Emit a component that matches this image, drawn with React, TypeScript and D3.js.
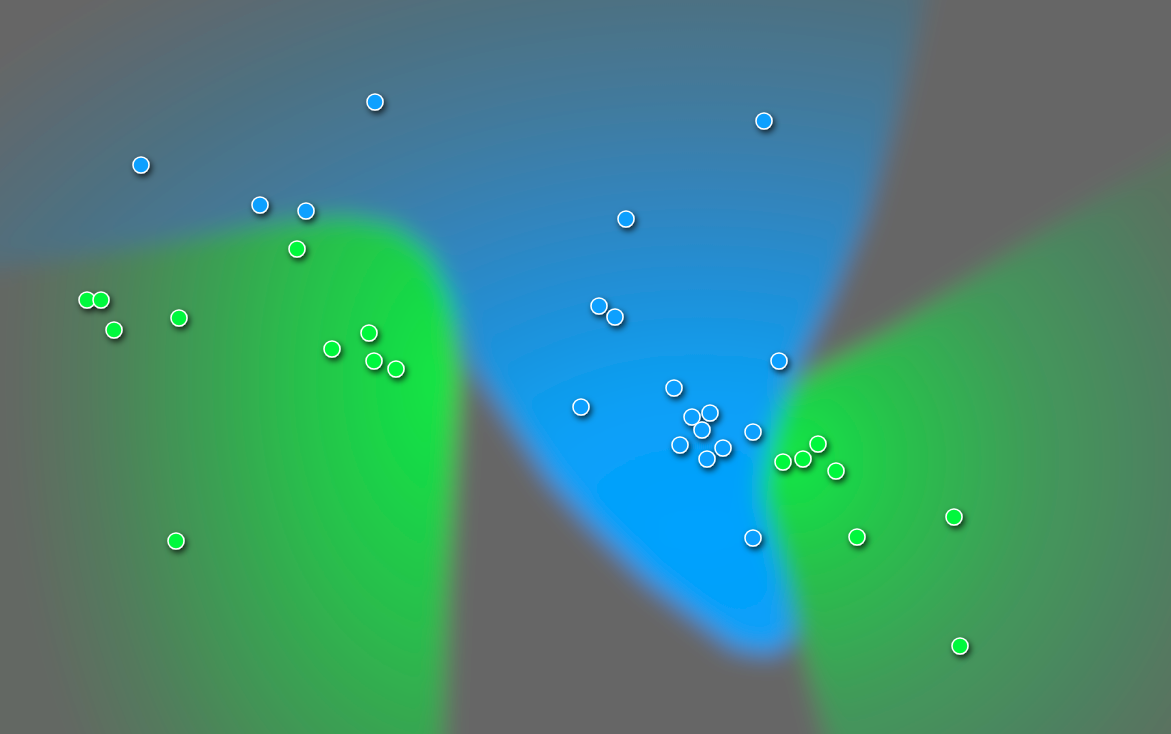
import * as d3 from 'd3';
import React, { useEffect } from 'react';

const W = 1171;
const H = 734;

// class A (blue) samples, data units
const blueX = [3.75, 7.64, 1.41, 2.60, 3.06, 6.26, 5.99, 6.15, 7.79, 6.74, 5.81, 6.92, 7.10, 7.02, 6.80, 7.23, 7.07, 7.53, 7.53];
const blueY = [6.32, 6.13, 5.69, 5.29, 5.23, 5.15, 4.28, 4.17, 3.73, 3.46, 3.27, 3.17, 3.21, 3.04, 2.89, 2.86, 2.75, 3.02, 1.96];

// class B (green) samples
const greenX = [2.97, 0.87, 1.01, 1.14, 1.79, 3.69, 3.32, 3.74, 3.96, 1.76, 7.83, 8.03, 8.18, 8.36, 8.57, 9.54, 9.60];
const greenY = [4.85, 4.34, 4.34, 4.04, 4.16, 4.01, 3.85, 3.73, 3.65, 1.93, 2.72, 2.75, 2.90, 2.63, 1.97, 2.17, 0.88];

// decision regions (outline of where each class wins)
const greenLeftRegion: [number, number][] = [
  [-0.8, 4.54], [0, 4.68], [1.5, 4.9], [2.8, 5.12], [3.45, 5.18], [3.95, 5.08], [4.3, 4.8],
  [4.52, 4.3], [4.58, 3.6], [4.54, 2.84], [4.46, 1.34], [4.4, -0.86], [-0.8, -0.86],
];
const blueRegion: [number, number][] = [
  [-0.8, 8.14], [9.4, 8.14], [9.25, 7.34], [8.95, 6.14], [8.65, 5.14], [8.3, 4.34], [8.0, 3.74],
  [7.82, 3.34], [7.68, 2.89], [7.6, 2.44], [7.7, 2.04], [7.85, 1.54], [7.95, 1.0], [7.75, 0.8],
  [7.35, 0.86], [6.47, 1.54], [5.9, 2.1], [5.5, 2.54], [5.05, 3.2], [4.7, 3.7], [4.52, 4.3],
  [4.3, 4.8], [3.95, 5.08], [3.45, 5.18], [2.8, 5.12], [1.5, 4.9], [0, 4.68], [-0.8, 4.54],
];
const greenRightRegion: [number, number][] = [
  [7.68, 2.89], [7.82, 3.34], [8.0, 3.54], [8.87, 4.01], [10.2, 4.87], [11.71, 5.81], [12.6, 6.36],
  [12.6, -0.86], [8.45, -0.86], [8.2, 0.2], [8.02, 0.9], [7.85, 1.54], [7.7, 2.04], [7.6, 2.44],
];

export default function App() {
  useEffect(() => {
    document.body.style.margin = '0';
  }, []);

  const x = d3.scaleLinear().domain([0, 11.71]).range([0, W]);
  const y = d3.scaleLinear().domain([0, 7.34]).range([H, 0]);
  const outline = d3
    .line<[number, number]>()
    .x((d) => x(d[0]))
    .y((d) => y(d[1]))
    .curve(d3.curveLinearClosed);

  // confidence falls off from each region's core
  const ellipse = (cx: number, cy: number, rx: number, ry: number) =>
    `translate(${x(cx)},${y(cy)}) scale(${rx},${ry})`;

  const blue = blueX.map((v, i) => [v, blueY[i]]);
  const green = greenX.map((v, i) => [v, greenY[i]]);

  return (
    <svg width={W} height={H} style={{ display: 'block' }}>
      <defs>
        <radialGradient id="gBlue" gradientUnits="userSpaceOnUse" cx={0} cy={0} r={1} gradientTransform={ellipse(7.0, 2.04, 975, 676)}>
          <stop offset="0" stopColor="#03a2ff" />
          <stop offset="0.18" stopColor="#08a0f8" />
          <stop offset="0.25" stopColor="#109cec" />
          <stop offset="0.36" stopColor="#2090d8" />
          <stop offset="0.5" stopColor="#3384bb" />
          <stop offset="0.64" stopColor="#427a9c" />
          <stop offset="0.8" stopColor="#4e7080" />
          <stop offset="1" stopColor="#666666" />
        </radialGradient>
        <radialGradient id="gLeft" gradientUnits="userSpaceOnUse" cx={0} cy={0} r={1} gradientTransform={ellipse(4.5, 3.54, 440, 700)}>
          <stop offset="0" stopColor="#10e844" />
          <stop offset="0.15" stopColor="#18d846" />
          <stop offset="0.35" stopColor="#28bf4c" />
          <stop offset="0.55" stopColor="#3aa052" />
          <stop offset="0.8" stopColor="#527c5c" />
          <stop offset="1" stopColor="#636863" />
        </radialGradient>
        <radialGradient id="gRight" gradientUnits="userSpaceOnUse" cx={0} cy={0} r={1} gradientTransform={ellipse(7.9, 2.74, 460, 460)}>
          <stop offset="0" stopColor="#10e844" />
          <stop offset="0.25" stopColor="#28c04c" />
          <stop offset="0.55" stopColor="#42985a" />
          <stop offset="0.83" stopColor="#4e8060" />
          <stop offset="1" stopColor="#5a7260" />
        </radialGradient>
        <filter id="soft" filterUnits="userSpaceOnUse" x={-200} y={-200} width={W + 400} height={H + 400}>
          <feGaussianBlur stdDeviation={12} />
        </filter>
        <filter id="shadow" x="-100%" y="-100%" width="300%" height="300%">
          <feDropShadow dx={2} dy={3} stdDeviation={3} floodColor="#000" floodOpacity={0.75} />
        </filter>
      </defs>

      <g filter="url(#soft)">
        <rect x={-150} y={-150} width={W + 300} height={H + 300} fill="#666666" />
        <path d={outline(blueRegion) ?? ''} fill="url(#gBlue)" />
        <path d={outline(greenLeftRegion) ?? ''} fill="url(#gLeft)" />
        <path d={outline(greenRightRegion) ?? ''} fill="url(#gRight)" />
      </g>

      <g filter="url(#shadow)">
        {blue.map((d, i) => (
          <circle key={'b' + i} cx={x(d[0])} cy={y(d[1])} r={8} fill="#07a0ff" stroke="#fff" strokeWidth={1.5} />
        ))}
        {green.map((d, i) => (
          <circle key={'g' + i} cx={x(d[0])} cy={y(d[1])} r={8} fill="#03f83d" stroke="#fff" strokeWidth={1.5} />
        ))}
      </g>
    </svg>
  );
}
